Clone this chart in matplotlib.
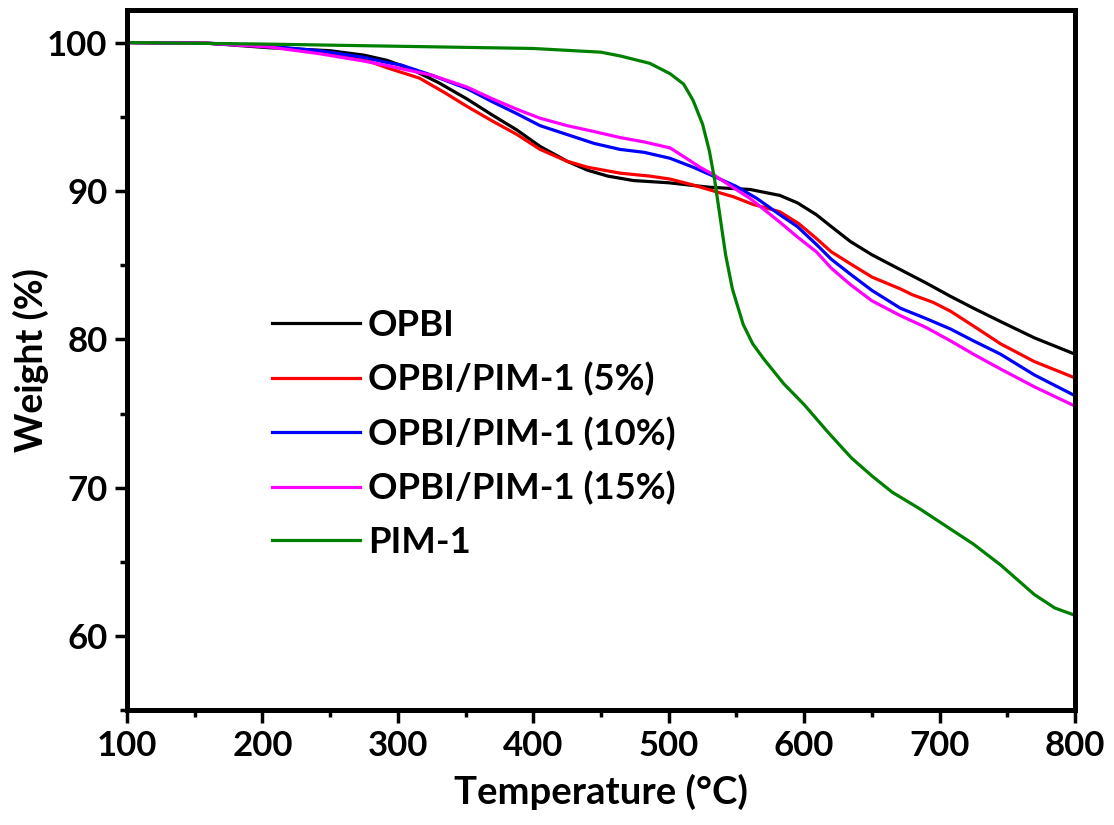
import matplotlib
matplotlib.use("Agg")
import matplotlib.pyplot as plt
from matplotlib.ticker import MultipleLocator

plt.rcParams["font.family"] = ["Lato", "DejaVu Sans"]
plt.rcParams["font.weight"] = "bold"

# TGA curves (temperature in °C, weight in %)
t_opbi = [100, 160, 205, 250, 275, 292, 310, 330, 351, 370, 388, 405, 425, 440, 455, 474, 500, 530, 560, 582, 595, 609, 620, 634, 650, 671, 690, 708, 725, 745, 770, 800]
w_opbi = [100.0, 99.95, 99.65, 99.45, 99.15, 98.8, 98.2, 97.3, 96.2, 95.1, 94.1, 93.0, 92.0, 91.4, 91.0, 90.7, 90.55, 90.25, 90.1, 89.7, 89.2, 88.4, 87.6, 86.6, 85.7, 84.7, 83.8, 82.9, 82.1, 81.2, 80.1, 79.0]

t_5 = [100, 160, 205, 250, 275, 292, 316, 335, 351, 370, 388, 405, 425, 440, 464, 486, 501, 518, 533, 548, 562, 582, 596, 609, 620, 634, 650, 671, 680, 695, 708, 725, 745, 770, 800]
w_5 = [100.0, 99.95, 99.75, 99.3, 98.85, 98.3, 97.6, 96.6, 95.7, 94.7, 93.8, 92.8, 92.0, 91.6, 91.2, 91.0, 90.8, 90.4, 90.0, 89.6, 89.1, 88.6, 87.8, 86.8, 85.9, 85.1, 84.2, 83.4, 83.0, 82.5, 81.9, 80.9, 79.7, 78.5, 77.4]

t_10 = [100, 160, 205, 242, 275, 292, 302, 325, 351, 370, 388, 405, 425, 445, 464, 482, 501, 518, 533, 550, 565, 582, 595, 609, 620, 634, 650, 671, 690, 708, 725, 745, 770, 800]
w_10 = [100.0, 99.95, 99.75, 99.45, 99.0, 98.65, 98.5, 97.8, 96.9, 96.0, 95.2, 94.4, 93.8, 93.2, 92.8, 92.6, 92.2, 91.6, 91.0, 90.3, 89.5, 88.4, 87.6, 86.4, 85.4, 84.4, 83.3, 82.1, 81.4, 80.7, 79.9, 79.0, 77.6, 76.2]

t_15 = [100, 160, 205, 242, 275, 292, 302, 325, 351, 370, 388, 405, 425, 445, 464, 482, 501, 513, 523, 533, 548, 560, 582, 595, 609, 620, 634, 650, 671, 690, 708, 725, 745, 770, 800]
w_15 = [100.0, 99.95, 99.7, 99.25, 98.75, 98.45, 98.25, 97.8, 97.0, 96.2, 95.5, 94.9, 94.4, 94.0, 93.6, 93.3, 92.9, 92.2, 91.6, 91.1, 90.2, 89.5, 87.9, 86.9, 85.9, 84.8, 83.7, 82.6, 81.6, 80.8, 79.9, 79.0, 78.0, 76.8, 75.5]

t_pim = [100, 200, 300, 400, 450, 464, 486, 501, 511, 518, 525, 530, 534, 538, 542, 547, 555, 562, 570, 585, 600, 618, 635, 650, 665, 685, 700, 725, 745, 760, 770, 785, 800]
w_pim = [100.0, 99.9, 99.75, 99.6, 99.35, 99.1, 98.6, 97.9, 97.2, 96.1, 94.5, 92.7, 90.7, 88.2, 85.7, 83.4, 81.0, 79.7, 78.7, 77.0, 75.6, 73.7, 72.0, 70.8, 69.7, 68.6, 67.7, 66.2, 64.8, 63.6, 62.8, 61.9, 61.4]

labels = ["OPBI", "OPBI/PIM-1 (5%)", "OPBI/PIM-1 (10%)", "OPBI/PIM-1 (15%)", "PIM-1"]
colors = ["black", "red", "blue", "magenta", "green"]

fig = plt.figure(figsize=(11.14, 8.25), dpi=100)
ax = fig.add_axes([0.114, 0.139, 0.851, 0.849])

series = [(t_opbi, w_opbi), (t_5, w_5), (t_10, w_10), (t_15, w_15), (t_pim, w_pim)]
for (t, w), lab, c in zip(series, labels, colors):
    ax.plot(t, w, color=c, lw=2.3, label=lab)

ax.set_xlim(100, 800)
ax.set_ylim(55, 102.2)
ax.xaxis.set_major_locator(MultipleLocator(100))
ax.xaxis.set_minor_locator(MultipleLocator(50))
ax.yaxis.set_minor_locator(MultipleLocator(5))
ax.set_yticks([60, 70, 80, 90, 100])

ax.tick_params(which="major", direction="out", length=9, width=2.5, labelsize=25, pad=5)
ax.tick_params(which="minor", direction="out", length=5, width=2.5)
for s in ax.spines.values():
    s.set_linewidth(3.6)

ax.set_xlabel("Temperature (°C)", fontsize=27.5, fontweight="bold", labelpad=9)
ax.set_ylabel("Weight (%)", fontsize=27, fontweight="bold")
ax.yaxis.set_label_coords(-0.082, 0.5)

ax.legend(loc="upper left", bbox_to_anchor=(0.153, 0.573), frameon=False, fontsize=26.3,
          handlelength=2.4, handletextpad=0.22, labelspacing=0.55, borderaxespad=0, borderpad=0)

fig.savefig("out.png", dpi=100)
